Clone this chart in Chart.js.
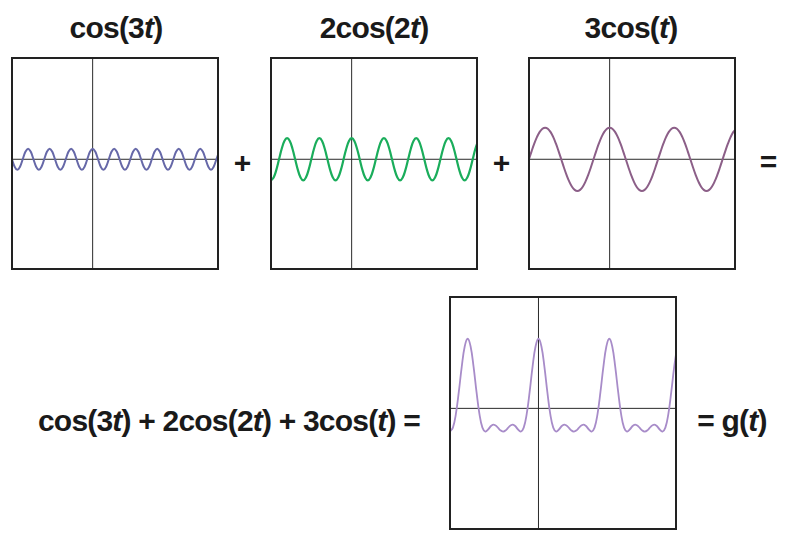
<!DOCTYPE html>
<html>
<head>
<meta charset="utf-8">
<script src="https://cdn.jsdelivr.net/npm/chart.js@4.4.1/dist/chart.umd.min.js"></script>
<style>
  html, body { margin: 0; padding: 0; background: #ffffff; }
  #stage { position: relative; width: 789px; height: 542px; overflow: hidden; background: #fff; }
  canvas { position: absolute; }
  .lbl { position: absolute; transform: translate(-50%, -50%); white-space: nowrap; line-height: 1;
         font-family: "Liberation Sans", Arial, Helvetica, sans-serif; font-weight: bold; font-size: 30px;
         letter-spacing: -0.8px; color: #1a1a1a; }
  .lbl i { font-style: italic; }
</style>
</head>
<body>
<div id="stage">
  <canvas id="c1" width="210" height="215" style="left:10px;top:56px"></canvas>
  <canvas id="c2" width="210" height="215" style="left:269px;top:56px"></canvas>
  <canvas id="c3" width="210" height="215" style="left:527px;top:56px"></canvas>
  <canvas id="c4" width="230" height="236" style="left:448px;top:295px"></canvas>

  <div class="lbl" style="left:116px;top:28px">cos(3<i>t</i>)</div>
  <div class="lbl" style="left:374px;top:28px">2cos(2<i>t</i>)</div>
  <div class="lbl" style="left:631px;top:28px">3cos(<i>t</i>)</div>
  <div class="lbl" style="left:242px;top:163px">+</div>
  <div class="lbl" style="left:501px;top:163px">+</div>
  <div class="lbl" style="left:768px;top:162px">=</div>
  <div class="lbl" style="left:229px;top:421px">cos(3<i>t</i>) + 2cos(2<i>t</i>) + 3cos(<i>t</i>) =</div>
  <div class="lbl" style="left:732px;top:421px">= g(<i>t</i>)</div>
</div>
<script>
// t sampled every pi/12, from -2.5*pi to about 3.92*pi
const tValues = [
  -7.854, -7.592, -7.330, -7.069, -6.807, -6.545, -6.283, -6.021,
  -5.760, -5.498, -5.236, -4.974, -4.712, -4.451, -4.189, -3.927,
  -3.665, -3.403, -3.142, -2.880, -2.618, -2.356, -2.094, -1.833,
  -1.571, -1.309, -1.047, -0.785, -0.524, -0.262, 0, 0.262,
  0.524, 0.785, 1.047, 1.309, 1.571, 1.833, 2.094, 2.356,
  2.618, 2.880, 3.142, 3.403, 3.665, 3.927, 4.189, 4.451,
  4.712, 4.974, 5.236, 5.498, 5.760, 6.021, 6.283, 6.545,
  6.807, 7.069, 7.330, 7.592, 7.854, 8.116, 8.378, 8.639,
  8.901, 9.163, 9.425, 9.687, 9.948, 10.210, 10.472, 10.734,
  10.996, 11.257, 11.519, 11.781, 12.043, 12.305
];

const cos3tValues = [
  0, -0.707, -1, -0.707, 0, 0.707, 1, 0.707,
  0, -0.707, -1, -0.707, 0, 0.707, 1, 0.707,
  0, -0.707, -1, -0.707, 0, 0.707, 1, 0.707,
  0, -0.707, -1, -0.707, 0, 0.707, 1, 0.707,
  0, -0.707, -1, -0.707, 0, 0.707, 1, 0.707,
  0, -0.707, -1, -0.707, 0, 0.707, 1, 0.707,
  0, -0.707, -1, -0.707, 0, 0.707, 1, 0.707,
  0, -0.707, -1, -0.707, 0, 0.707, 1, 0.707,
  0, -0.707, -1, -0.707, 0, 0.707, 1, 0.707,
  0, -0.707, -1, -0.707, 0, 0.707
];

const twoCos2tValues = [
  -2, -1.732, -1, 0, 1, 1.732, 2, 1.732, 1, 0, -1, -1.732,
  -2, -1.732, -1, 0, 1, 1.732, 2, 1.732, 1, 0, -1, -1.732,
  -2, -1.732, -1, 0, 1, 1.732, 2, 1.732, 1, 0, -1, -1.732,
  -2, -1.732, -1, 0, 1, 1.732, 2, 1.732, 1, 0, -1, -1.732,
  -2, -1.732, -1, 0, 1, 1.732, 2, 1.732, 1, 0, -1, -1.732,
  -2, -1.732, -1, 0, 1, 1.732, 2, 1.732, 1, 0, -1, -1.732,
  -2, -1.732, -1, 0, 1, 1.732
];

const threeCosTValues = [
  0, 0.776, 1.5, 2.121, 2.598, 2.898, 3, 2.898, 2.598, 2.121, 1.5, 0.776,
  0, -0.776, -1.5, -2.121, -2.598, -2.898, -3, -2.898, -2.598, -2.121, -1.5, -0.776,
  0, 0.776, 1.5, 2.121, 2.598, 2.898, 3, 2.898, 2.598, 2.121, 1.5, 0.776,
  0, -0.776, -1.5, -2.121, -2.598, -2.898, -3, -2.898, -2.598, -2.121, -1.5, -0.776,
  0, 0.776, 1.5, 2.121, 2.598, 2.898, 3, 2.898, 2.598, 2.121, 1.5, 0.776,
  0, -0.776, -1.5, -2.121, -2.598, -2.898, -3, -2.898, -2.598, -2.121, -1.5, -0.776,
  0, 0.776, 1.5, 2.121, 2.598, 2.898
];

const gValues = [
  -2, -1.663, -0.5, 1.414, 3.598, 5.337, 6, 5.337, 3.598, 1.414, -0.5, -1.663,
  -2, -1.801, -1.5, -1.414, -1.598, -1.873, -2, -1.873, -1.598, -1.414, -1.5, -1.801,
  -2, -1.663, -0.5, 1.414, 3.598, 5.337, 6, 5.337, 3.598, 1.414, -0.5, -1.663,
  -2, -1.801, -1.5, -1.414, -1.598, -1.873, -2, -1.873, -1.598, -1.414, -1.5, -1.801,
  -2, -1.663, -0.5, 1.414, 3.598, 5.337, 6, 5.337, 3.598, 1.414, -0.5, -1.663,
  -2, -1.801, -1.5, -1.414, -1.598, -1.873, -2, -1.873, -1.598, -1.414, -1.5, -1.801,
  -2, -1.663, -0.5, 1.414, 3.598, 5.337
];

const X_MIN = -7.85, X_MAX = 12.2;
const Y_MIN = -10.4, Y_MAX = 9.6;

const framePlugin = {
  id: 'frame',
  beforeDatasetsDraw(chart) {
    const { ctx, chartArea: a, scales } = chart;
    const x0 = scales.x.getPixelForValue(0);
    const y0 = scales.y.getPixelForValue(0);
    ctx.save();
    ctx.strokeStyle = '#2a2a2a';
    ctx.lineWidth = 1;
    ctx.beginPath();
    ctx.moveTo(a.left, y0); ctx.lineTo(a.right, y0);
    ctx.moveTo(x0, a.top); ctx.lineTo(x0, a.bottom);
    ctx.stroke();
    ctx.restore();
  },
  afterDatasetsDraw(chart) {
    const { ctx, chartArea: a } = chart;
    ctx.save();
    ctx.strokeStyle = '#222222';
    ctx.lineWidth = 2;
    ctx.strokeRect(a.left, a.top, a.right - a.left, a.bottom - a.top);
    ctx.restore();
  }
};

function makePanel(id, ys, color, width) {
  new Chart(document.getElementById(id), {
    type: 'line',
    data: {
      datasets: [{
        data: tValues.map((t, i) => ({ x: t, y: ys[i] })),
        borderColor: color,
        borderWidth: width,
        pointRadius: 0,
        tension: 0.4,
        fill: false
      }]
    },
    options: {
      responsive: false,
      animation: false,
      events: [],
      layout: { padding: 2 },
      plugins: { legend: { display: false }, tooltip: { enabled: false } },
      scales: {
        x: { type: 'linear', min: X_MIN, max: X_MAX, display: false },
        y: { type: 'linear', min: Y_MIN, max: Y_MAX, display: false }
      }
    },
    plugins: [framePlugin]
  });
}

makePanel('c1', cos3tValues, '#6668a8', 2);
makePanel('c2', twoCos2tValues, '#1aad5b', 2.2);
makePanel('c3', threeCosTValues, '#8c5f88', 2);
makePanel('c4', gValues, '#a88cc9', 1.8);
</script>
</body>
</html>
